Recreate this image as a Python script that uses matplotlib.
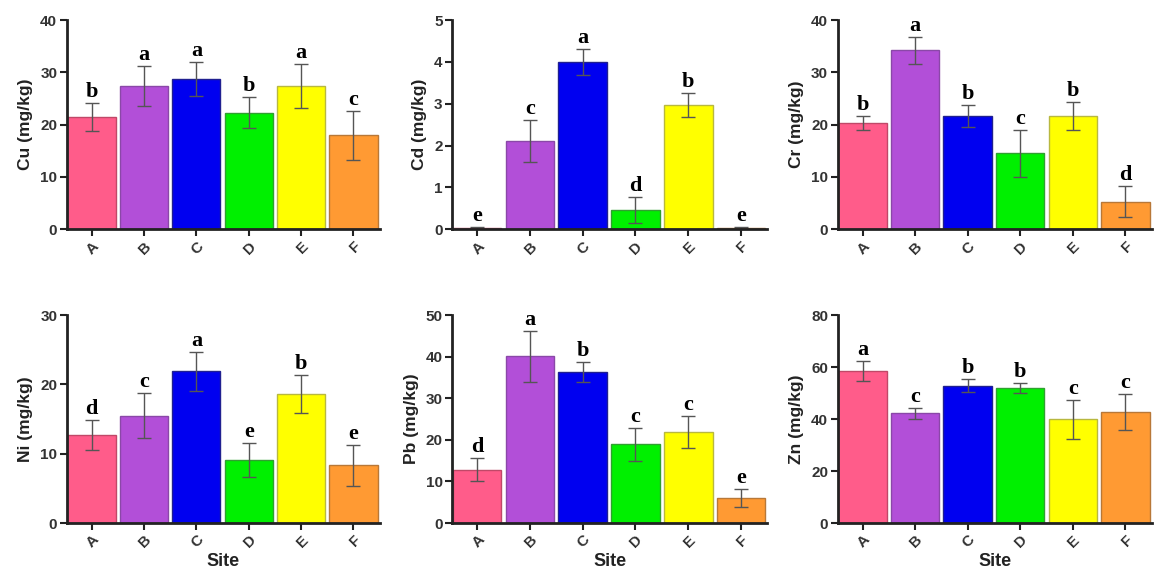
import matplotlib
matplotlib.use("Agg")
import matplotlib.pyplot as plt
import numpy as np

# データ
sites = ['A', 'B', 'C', 'D', 'E', 'F']

cu_mean = [21.5, 27.4, 28.7, 22.3, 27.4, 18.0]
cu_err = [2.7, 3.9, 3.3, 3.0, 4.2, 4.7]
cu_sig = ['b', 'a', 'a', 'b', 'a', 'c']

cd_mean = [0.03, 2.11, 4.0, 0.45, 2.97, 0.03]
cd_err = [0.02, 0.50, 0.30, 0.31, 0.29, 0.02]
cd_sig = ['e', 'c', 'a', 'd', 'b', 'e']

cr_mean = [20.3, 34.2, 21.6, 14.5, 21.7, 5.3]
cr_err = [1.4, 2.6, 2.1, 4.5, 2.7, 2.9]
cr_sig = ['b', 'a', 'b', 'c', 'b', 'd']

ni_mean = [12.7, 15.5, 21.9, 9.1, 18.6, 8.3]
ni_err = [2.2, 3.3, 2.8, 2.4, 2.7, 2.9]
ni_sig = ['d', 'c', 'a', 'e', 'b', 'e']

pb_mean = [12.8, 40.1, 36.4, 18.9, 21.9, 6.0]
pb_err = [2.8, 6.1, 2.4, 4.0, 3.9, 2.1]
pb_sig = ['d', 'a', 'b', 'c', 'c', 'e']

zn_mean = [58.5, 42.2, 52.9, 52.0, 39.9, 42.7]
zn_err = [3.8, 2.2, 2.4, 1.9, 7.6, 6.8]
zn_sig = ['a', 'c', 'b', 'b', 'c', 'c']

colors = ['#FF5C8A', '#B24FD8', '#0000F0', '#00F000', '#FFFF00', '#FF9A33']
edge_colors = ['#C04868', '#8A48A8', '#202090', '#30A030', '#B8B840', '#B87838']

panels = [
    ('Cu (mg/kg)', cu_mean, cu_err, cu_sig, 40, 10),
    ('Cd (mg/kg)', cd_mean, cd_err, cd_sig, 5, 1),
    ('Cr (mg/kg)', cr_mean, cr_err, cr_sig, 40, 10),
    ('Ni (mg/kg)', ni_mean, ni_err, ni_sig, 30, 10),
    ('Pb (mg/kg)', pb_mean, pb_err, pb_sig, 50, 10),
    ('Zn (mg/kg)', zn_mean, zn_err, zn_sig, 80, 20),
]

# 軸の位置 (figure座標)
lefts = [0.058, 0.392, 0.726]
widths = [0.271, 0.273, 0.272]
bottoms = [0.602, 0.092]
heights = [0.363, 0.361]

plt.rcParams['font.family'] = 'Liberation Sans'

fig = plt.figure(figsize=(11.54, 5.76), dpi=100)

for i, (ylabel, mean, err, sig, ymax, step) in enumerate(panels):
    row, col = divmod(i, 3)
    ax = fig.add_axes([lefts[col], bottoms[row], widths[col], heights[row]])
    x = np.arange(len(sites))
    ax.bar(x, mean, width=0.92, color=colors, edgecolor=edge_colors, linewidth=1.0,
           yerr=err, capsize=5, error_kw=dict(ecolor='#555555', elinewidth=1.0, capthick=1.0),
           zorder=2)

    # 有意差の文字
    for xi, m, e, s in zip(x, mean, err, sig):
        ax.text(xi, m + e + ymax * 0.005, s, ha='center', va='bottom',
                fontsize=16, fontweight='bold', family='Liberation Serif')

    ax.set_xlim(-0.47, 5.5)
    ax.set_ylim(0, ymax)
    ax.set_yticks(np.arange(0, ymax + step / 2, step))
    ax.set_xticks(x)
    ax.set_xticklabels(sites, rotation=45, ha='right', rotation_mode='anchor')
    for lbl in ax.get_xticklabels() + ax.get_yticklabels():
        lbl.set_fontweight('bold')
        lbl.set_fontsize(11)
        lbl.set_color('#333333')
    ax.set_ylabel(ylabel, fontsize=12.5, fontweight='bold', color='#222222', labelpad=5)
    if row == 1:
        ax.set_xlabel('Site', fontsize=13, fontweight='bold', color='#222222', labelpad=2)

    ax.spines['top'].set_visible(False)
    ax.spines['right'].set_visible(False)
    ax.spines['left'].set_linewidth(2.0)
    ax.spines['bottom'].set_linewidth(2.0)
    ax.spines['left'].set_color('#222222')
    ax.spines['bottom'].set_color('#222222')
    ax.tick_params(axis='both', direction='out', length=5, width=1.5, color='#222222', pad=2)

fig.savefig('out.png', dpi=100)
